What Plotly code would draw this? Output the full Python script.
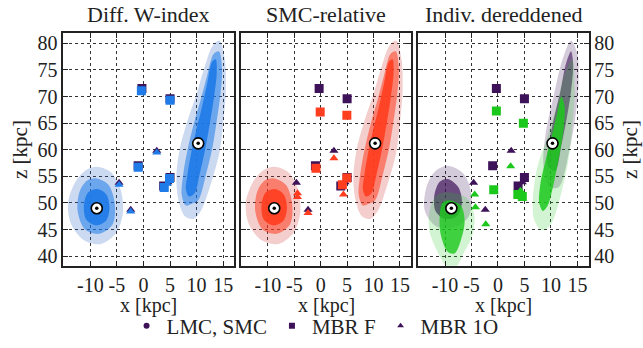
import plotly.graph_objects as go

FONT = "Liberation Serif"
PURPLE = "#3d1258"
BLUE = "#1f7be8"
RED = "#ff3d1f"
GREEN = "#1cc81c"

PANEL_TITLES = ["Diff. W-index", "SMC-relative", "Indiv. dereddened"]
X_TICKS = [-10, -5, 0, 5, 10, 15]
X_TICKTEXT = ["-10", "-5", "0", "5", "10", "15"]
Z_TICKS = [40, 45, 50, 55, 60, 65, 70, 75, 80]

# LMC / SMC centres
CEN_X = [-8.8, 10.3]
CEN_Z = [49.0, 61.2]

# reference (purple) bridge positions
REF_F_X = [-0.3, 5.0, -1.0, 5.0, 3.8]
REF_F_Z = [71.5, 69.6, 57.0, 54.8, 53.2]
REF_1O_X = [2.5, -4.6, -2.4, 4.6]
REF_1O_Z = [59.8, 53.8, 48.7, 53.9]

# Diff. W-index
W_F_X = [-0.4, 5.0, -1.0, 4.9, 3.9]
W_F_Z = [71.1, 69.3, 56.7, 54.6, 52.9]
W_1O_X = [2.5, -4.6, -2.4, 4.5]
W_1O_Z = [59.5, 53.4, 48.4, 53.6]

# SMC-relative
S_F_X = [-0.1, 4.95, -0.9, 4.95, 4.1]
S_F_Z = [67.1, 66.5, 56.5, 54.7, 53.4]
S_1O_X = [2.5, -4.4, -4.4, -2.4, 4.3]
S_1O_Z = [58.4, 51.8, 51.1, 48.1, 51.6]

# Individually dereddened
I_F_X = [-0.3, 4.8, -0.8, 3.75, 4.6]
I_F_Z = [67.3, 65.0, 52.5, 51.6, 51.2]
I_1O_X = [2.4, -4.4, -4.25, -2.3, 4.25]
I_1O_Z = [56.9, 51.6, 49.2, 46.0, 52.3]

# cloud outlines (outer sparse, middle, dense core)
LMC_OUT_X = [-8.8, -6.2, -4.3, -3.9, -5.2, -8.0, -11.2, -13.6, -14.2, -12.8, -10.8, -8.8]
LMC_OUT_Z = [56.8, 55.8, 52.5, 48.0, 44.3, 42.3, 43.0, 46.0, 50.0, 54.0, 56.2, 56.8]
LMC_MID_X = [-8.8, -6.6, -5.4, -5.8, -8.3, -11.0, -12.4, -12.0, -10.6, -8.8]
LMC_MID_Z = [54.6, 53.4, 49.8, 46.0, 44.2, 45.0, 48.5, 52.2, 54.2, 54.6]
LMC_CORE_X = [-8.7, -7.0, -6.4, -7.1, -8.9, -10.8, -11.2, -10.4, -8.7]
LMC_CORE_Z = [52.6, 51.6, 49.0, 46.6, 45.8, 46.9, 49.8, 52.0, 52.6]

SMC_OUT_X = [10.8, 12.8, 14.3, 15.0, 15.5, 15.3, 14.3, 13.0, 11.5, 10.0, 8.3, 6.8, 6.2, 6.6, 7.8, 9.4, 10.8]
SMC_OUT_Z = [48.5, 54.0, 59.5, 65.0, 71.0, 77.0, 80.5, 79.5, 75.5, 70.5, 65.5, 60.0, 55.0, 50.5, 47.5, 47.0, 48.5]
SMC_MID_X = [10.3, 11.8, 13.0, 13.8, 14.5, 14.8, 14.2, 13.2, 12.0, 10.8, 9.5, 8.3, 7.5, 7.2, 8.0, 9.0, 10.3]
SMC_MID_Z = [50.5, 55.5, 60.5, 65.5, 70.5, 75.0, 78.5, 78.0, 74.0, 69.5, 65.0, 60.0, 55.5, 51.5, 49.5, 49.8, 50.5]
SMC_CORE_X = [9.6, 10.6, 11.6, 12.5, 13.3, 13.8, 13.6, 12.9, 12.0, 11.0, 10.0, 9.0, 8.3, 8.0, 8.6, 9.6]
SMC_CORE_Z = [51.8, 55.5, 60.0, 65.0, 70.0, 74.5, 77.0, 76.5, 72.5, 68.0, 64.0, 59.5, 55.5, 52.5, 51.2, 51.8]

# panel 3: purple (reference) and green clouds
P_LMC_OUT_X = [-9.5, -6.5, -5.0, -5.5, -8.0, -11.5, -13.8, -13.5, -11.8, -9.5]
P_LMC_OUT_Z = [57.0, 55.5, 51.5, 47.5, 45.5, 45.5, 48.5, 53.0, 56.0, 57.0]
P_LMC_CORE_X = [-9.5, -7.5, -6.8, -7.8, -10.0, -11.8, -12.0, -11.0, -9.5]
P_LMC_CORE_Z = [54.5, 53.0, 50.0, 47.5, 47.0, 48.5, 51.5, 54.0, 54.5]
G_LMC_OUT_X = [-9.5, -6.0, -4.5, -4.8, -6.5, -8.0, -9.5, -11.5, -13.0, -12.8, -11.5, -9.5]
G_LMC_OUT_Z = [52.0, 51.0, 48.0, 44.0, 40.5, 37.9, 37.9, 41.0, 45.0, 49.0, 51.5, 52.0]
G_LMC_CORE_X = [-9.2, -7.0, -6.3, -7.0, -8.2, -9.5, -10.8, -11.0, -10.5, -9.2]
G_LMC_CORE_Z = [50.5, 49.5, 46.5, 43.0, 40.5, 40.8, 44.0, 47.5, 50.0, 50.5]

P_SMC_OUT_X = [11.5, 13.5, 14.6, 15.2, 15.0, 13.8, 12.2, 10.5, 9.0, 8.6, 9.8, 11.5]
P_SMC_OUT_Z = [53.0, 60.0, 66.0, 72.0, 78.0, 80.5, 77.0, 70.0, 63.0, 57.0, 53.0, 53.0]
P_SMC_CORE_X = [10.8, 12.0, 13.0, 13.8, 14.2, 13.8, 12.8, 11.8, 10.6, 9.6, 9.4, 10.8]
P_SMC_CORE_Z = [56.0, 61.0, 66.0, 71.0, 76.0, 78.5, 76.0, 71.0, 66.0, 61.0, 57.0, 56.0]
G_SMC_OUT_X = [10.3, 12.0, 13.3, 14.0, 14.5, 14.0, 12.5, 11.0, 9.2, 7.5, 6.6, 6.8, 8.0, 9.0, 10.3]
G_SMC_OUT_Z = [46.5, 52.0, 58.0, 64.0, 71.0, 77.0, 74.0, 68.0, 62.0, 57.0, 51.0, 47.0, 45.0, 45.0, 46.5]
G_SMC_CORE_X = [9.4, 10.6, 11.6, 12.4, 12.6, 12.0, 11.0, 10.0, 9.0, 8.0, 7.8, 8.5, 9.4]
G_SMC_CORE_Z = [49.5, 54.0, 59.0, 64.0, 68.0, 70.0, 66.0, 62.0, 58.0, 53.5, 50.0, 48.5, 49.5]


def rgba(hexc, a):
    h = hexc.lstrip("#")
    r, g, b = int(h[0:2], 16), int(h[2:4], 16), int(h[4:6], 16)
    return f"rgba({r},{g},{b},{a})"


fig = go.Figure()


def axref(k):
    return ("x" if k == 1 else f"x{k}"), ("y" if k == 1 else f"y{k}")


def cloud(xs, zs, color, alpha, k):
    xa, ya = axref(k)
    fig.add_trace(go.Scatter(
        x=xs, y=zs, mode="lines", fill="toself",
        fillcolor=rgba(color, alpha),
        line=dict(width=0, shape="spline", smoothing=0.9),
        hoverinfo="skip", showlegend=False, xaxis=xa, yaxis=ya))


def pts(xs, zs, symbol, color, size, k):
    xa, ya = axref(k)
    fig.add_trace(go.Scatter(
        x=xs, y=zs, mode="markers",
        marker=dict(symbol=symbol, color=color, size=size, line=dict(width=0)),
        hoverinfo="skip", showlegend=False, xaxis=xa, yaxis=ya))


# panels 1 and 2
for k, col in [(1, BLUE), (2, RED)]:
    cloud(LMC_OUT_X, LMC_OUT_Z, PURPLE, 0.07, k)
    cloud(SMC_OUT_X, SMC_OUT_Z, PURPLE, 0.07, k)
    cloud(LMC_OUT_X, LMC_OUT_Z, col, 0.18, k)
    cloud(SMC_OUT_X, SMC_OUT_Z, col, 0.18, k)
    cloud(LMC_MID_X, LMC_MID_Z, col, 0.55, k)
    cloud(SMC_MID_X, SMC_MID_Z, col, 0.55, k)
    cloud(LMC_CORE_X, LMC_CORE_Z, col, 0.9, k)
    cloud(SMC_CORE_X, SMC_CORE_Z, col, 0.9, k)

# panel 3
cloud(P_LMC_OUT_X, P_LMC_OUT_Z, PURPLE, 0.22, 3)
cloud(P_SMC_OUT_X, P_SMC_OUT_Z, PURPLE, 0.22, 3)
cloud(P_LMC_CORE_X, P_LMC_CORE_Z, PURPLE, 0.7, 3)
cloud(P_SMC_CORE_X, P_SMC_CORE_Z, PURPLE, 0.6, 3)
cloud(G_LMC_OUT_X, G_LMC_OUT_Z, GREEN, 0.2, 3)
cloud(G_SMC_OUT_X, G_SMC_OUT_Z, GREEN, 0.2, 3)
cloud(G_LMC_CORE_X, G_LMC_CORE_Z, GREEN, 0.8, 3)
cloud(G_SMC_CORE_X, G_SMC_CORE_Z, GREEN, 0.85, 3)

panels = [
    (1, BLUE, W_F_X, W_F_Z, W_1O_X, W_1O_Z),
    (2, RED, S_F_X, S_F_Z, S_1O_X, S_1O_Z),
    (3, GREEN, I_F_X, I_F_Z, I_1O_X, I_1O_Z),
]
for k, col, fx, fz, tx, tz in panels:
    xa, ya = axref(k)
    pts(REF_F_X, REF_F_Z, "square", PURPLE, 9, k)
    pts(REF_1O_X, REF_1O_Z, "triangle-up", PURPLE, 8, k)
    pts(fx, fz, "square", col, 9, k)
    pts(tx, tz, "triangle-up", col, 8, k)
    fig.add_trace(go.Scatter(
        x=CEN_X, y=CEN_Z, mode="markers",
        marker=dict(symbol="circle", color="white", size=11, line=dict(color="black", width=1.6)),
        hoverinfo="skip", showlegend=False, xaxis=xa, yaxis=ya))
    pts(CEN_X, CEN_Z, "circle", "black", 3.5, k)

# legend entries
for name, sym in [("LMC, SMC", "circle"), ("MBR F", "square"), ("MBR 1O", "triangle-up")]:
    fig.add_trace(go.Scatter(x=[None], y=[None], mode="markers", name=name,
                             marker=dict(symbol=sym, color=PURPLE, size=6)))

W, H = 643, 348
x_doms = [(63.3, 234.3), (241.0, 411.0), (418.0, 588.5)]
y_dom = ((H - 265.7) / H, (H - 32.7) / H)

axis_common = dict(
    showline=True, linecolor="#222", linewidth=1.6, mirror="allticks",
    ticks="inside", ticklen=5, tickwidth=1.2, tickcolor="#222",
    showgrid=True, gridcolor="#333", griddash="dot", gridwidth=1,
    zeroline=False, tickfont=dict(family=FONT, size=20, color="#222"),
)

layout = dict(
    width=W, height=H, margin=dict(l=0, r=0, t=0, b=0, autoexpand=False),
    paper_bgcolor="white", plot_bgcolor="white",
    font=dict(family=FONT, size=20, color="#222"),
    showlegend=True,
    legend=dict(orientation="h", x=0.49, xanchor="center", y=(H - 326) / H, yanchor="middle",
                font=dict(family=FONT, size=21, color="#222"), itemwidth=30,
                bgcolor="rgba(0,0,0,0)", tracegroupgap=0),
)
for i, (a, b) in enumerate(x_doms):
    k = i + 1
    xs = "xaxis" if k == 1 else f"xaxis{k}"
    ys = "yaxis" if k == 1 else f"yaxis{k}"
    layout[xs] = dict(axis_common, domain=[a / W, b / W], range=[-15.1, 17.1],
                      tickvals=X_TICKS, ticktext=X_TICKTEXT,
                      anchor="y" if k == 1 else f"y{k}")
    ydef = dict(axis_common, domain=list(y_dom), range=[38.2, 82.0], tickvals=Z_TICKS,
                anchor="x" if k == 1 else f"x{k}")
    if k == 2:
        ydef["showticklabels"] = False
    if k == 3:
        ydef["side"] = "right"
    layout[ys] = ydef

fig.update_layout(**layout)

ann = []
for i, (a, b) in enumerate(x_doms):
    cx = (a + b) / 2 / W
    ann.append(dict(text=PANEL_TITLES[i], x=cx, y=(H - 14) / H, xref="paper", yref="paper",
                    showarrow=False, font=dict(family=FONT, size=22, color="#222"),
                    xanchor="center", yanchor="middle"))
    ann.append(dict(text="x [kpc]", x=cx, y=(H - 305) / H, xref="paper", yref="paper",
                    showarrow=False, font=dict(family=FONT, size=20, color="#222"),
                    xanchor="center", yanchor="middle"))
ann.append(dict(text="z [kpc]", x=20 / W, y=(H - 150) / H, xref="paper", yref="paper",
                textangle=-90, showarrow=False, font=dict(family=FONT, size=21, color="#222"),
                xanchor="center", yanchor="middle"))
ann.append(dict(text="z [kpc]", x=630 / W, y=(H - 150) / H, xref="paper", yref="paper",
                textangle=-90, showarrow=False, font=dict(family=FONT, size=21, color="#222"),
                xanchor="center", yanchor="middle"))
fig.update_layout(annotations=ann)

fig.write_html("out.html")
